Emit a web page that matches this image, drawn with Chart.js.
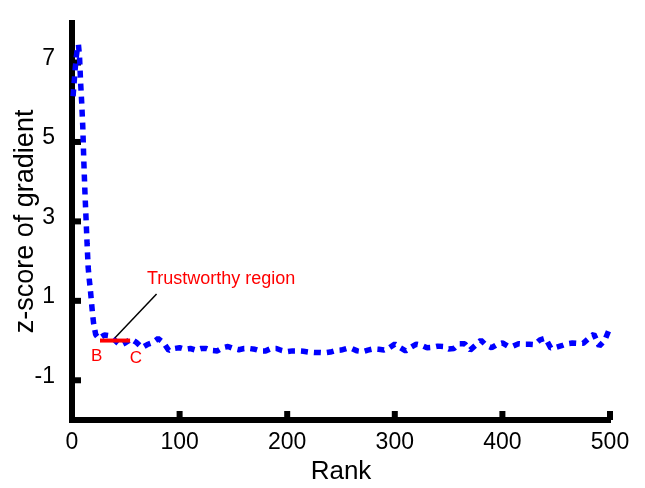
<!DOCTYPE html>
<html>
<head>
<meta charset="utf-8">
<script src="https://cdn.jsdelivr.net/npm/chart.js@4"></script>
<style>
  html, body { margin: 0; padding: 0; background: #fff; }
  #wrap { width: 645px; height: 488px; }
</style>
</head>
<body>
<div id="wrap"><canvas id="c" width="645" height="488"></canvas></div>
<script>
const ranks = [1,2,3,4,5,6,7,8,9,10,11,12,13,14,15,16,17,18,19,20,22,25,
  30,35,40,45,50,55,60,65,70,75,80,85,90,95,100,105,110,115,120,125,130,135,140,145,
  150,155,160,165,170,175,180,185,190,195,200,205,210,215,220,225,230,235,240,245,
  250,255,260,265,270,275,280,285,290,295,300,305,310,315,320,325,330,335,340,345,
  350,355,360,365,370,375,380,385,390,395,400,405,410,415,420,425,430,435,440,445,
  450,455,460,465,470,475,480,485,490,495,500];
const zscores = [6.15,6.5,6.85,7.15,7.35,7.45,7.15,6.5,6.0,5.4,4.5,3.75,3.1,2.45,1.85,1.55,1.3,1.0,0.7,0.45,0.15,0.05,
  0.14,0.12,0.0,-0.12,-0.05,0.04,-0.05,-0.18,-0.1,-0.05,0.05,-0.05,-0.25,-0.2,-0.18,-0.22,-0.2,-0.24,-0.2,-0.2,-0.25,-0.26,-0.18,-0.15,
  -0.2,-0.23,-0.2,-0.2,-0.22,-0.26,-0.26,-0.2,-0.2,-0.25,-0.28,-0.26,-0.26,-0.27,-0.29,-0.3,-0.3,-0.31,-0.29,-0.25,
  -0.24,-0.2,-0.2,-0.26,-0.28,-0.24,-0.21,-0.22,-0.24,-0.18,-0.09,-0.18,-0.26,-0.17,-0.09,-0.12,-0.18,-0.17,-0.14,-0.15,
  -0.21,-0.2,-0.08,-0.08,-0.24,-0.12,0.01,-0.12,-0.18,-0.1,-0.06,-0.14,-0.14,-0.08,-0.09,-0.09,-0.1,0.02,0.06,-0.19,
  -0.17,-0.13,-0.08,-0.06,-0.07,-0.07,0.05,0.16,-0.14,0.0,0.33];
const xTicks = [0,100,200,300,400,500];
const yTicks = [-1,1,3,5,7];
const xTitle = 'Rank';
const yTitle = 'z-score of gradient';

// annotation anchors (data units)
const regionStart = 26, regionEnd = 54, regionLevel = 0;
const labelB = {x: 22.9, y: -0.40, text: 'B'};
const labelC = {x: 59.4, y: -0.44, text: 'C'};
const noteText = {x: 69.6, y: 1.55, text: 'Trustworthy region'};
const pointerFrom = {x: 78.6, y: 1.17};
const pointerTo = {x: 40, y: 0.07};

Chart.defaults.font.family = "'Liberation Sans', Arial, Helvetica, sans-serif";
Chart.defaults.color = '#000';

const inwardTicks = {
  id: 'inwardTicks',
  beforeDatasetsDraw(chart) {
    const {ctx, chartArea, scales: {x, y}} = chart;
    ctx.save();
    ctx.strokeStyle = '#000';
    ctx.lineWidth = 6;
    ctx.lineCap = 'butt';
    xTicks.forEach(v => {
      const px = x.getPixelForValue(v);
      ctx.beginPath(); ctx.moveTo(px, chartArea.bottom); ctx.lineTo(px, chartArea.bottom - 9); ctx.stroke();
    });
    yTicks.forEach(v => {
      const py = y.getPixelForValue(v);
      ctx.beginPath(); ctx.moveTo(chartArea.left, py); ctx.lineTo(chartArea.left + 9, py); ctx.stroke();
    });
    ctx.restore();
  }
};

const annotations = {
  id: 'annotations',
  afterDatasetsDraw(chart) {
    const {ctx, scales: {x, y}} = chart;
    ctx.save();
    ctx.strokeStyle = '#ff0000';
    ctx.lineWidth = 4;
    ctx.beginPath();
    ctx.moveTo(x.getPixelForValue(regionStart), y.getPixelForValue(regionLevel));
    ctx.lineTo(x.getPixelForValue(regionEnd), y.getPixelForValue(regionLevel));
    ctx.stroke();
    ctx.strokeStyle = '#000';
    ctx.lineWidth = 1.5;
    ctx.beginPath();
    ctx.moveTo(x.getPixelForValue(pointerFrom.x), y.getPixelForValue(pointerFrom.y));
    ctx.lineTo(x.getPixelForValue(pointerTo.x), y.getPixelForValue(pointerTo.y));
    ctx.stroke();
    ctx.fillStyle = '#ff0000';
    ctx.textBaseline = 'middle';
    ctx.font = "18px 'Liberation Sans', Arial, sans-serif";
    ctx.textAlign = 'left';
    ctx.fillText(noteText.text, x.getPixelForValue(noteText.x), y.getPixelForValue(noteText.y));
    ctx.font = "17px 'Liberation Sans', Arial, sans-serif";
    ctx.textAlign = 'center';
    [labelB, labelC].forEach(l => ctx.fillText(l.text, x.getPixelForValue(l.x), y.getPixelForValue(l.y)));
    ctx.restore();
  }
};

new Chart(document.getElementById('c'), {
  type: 'line',
  data: {
    datasets: [{
      data: ranks.map((r, i) => ({x: r, y: zscores[i]})),
      borderColor: '#0000ff',
      borderWidth: 5.5,
      borderDash: [7, 6],
      borderCapStyle: 'butt',
      borderJoinStyle: 'bevel',
      pointRadius: 0,
      tension: 0,
      fill: false,
      clip: false
    }]
  },
  options: {
    responsive: false,
    animation: false,
    devicePixelRatio: 1,
    layout: {padding: {top: 15, right: 35, left: 0, bottom: 0}},
    plugins: {legend: {display: false}, tooltip: {enabled: false}},
    scales: {
      x: {
        type: 'linear', min: 0, max: 500,
        afterBuildTicks(s) { s.ticks = xTicks.map(v => ({value: v})); },
        afterFit(s) { s.height = 68; },
        grid: {display: false},
        border: {display: true, width: 6, color: '#000'},
        ticks: {font: {size: 23}, color: '#000', padding: 1, maxRotation: 0, autoSkip: false},
        title: {display: true, text: xTitle, font: {size: 26}, color: '#000', padding: {top: 0, bottom: 1}}
      },
      y: {
        type: 'linear', min: -2, max: 8,
        afterBuildTicks(s) { s.ticks = yTicks.map(v => ({value: v})); },
        afterFit(s) { s.width = 72; },
        grid: {display: false},
        border: {display: true, width: 6, color: '#000'},
        ticks: {font: {size: 23}, color: '#000', padding: 9, labelOffset: -4, autoSkip: false},
        title: {display: true, text: yTitle, font: {size: 27}, color: '#000', padding: {top: 9, bottom: 0}}
      }
    }
  },
  plugins: [inwardTicks, annotations]
});
</script>
</body>
</html>
